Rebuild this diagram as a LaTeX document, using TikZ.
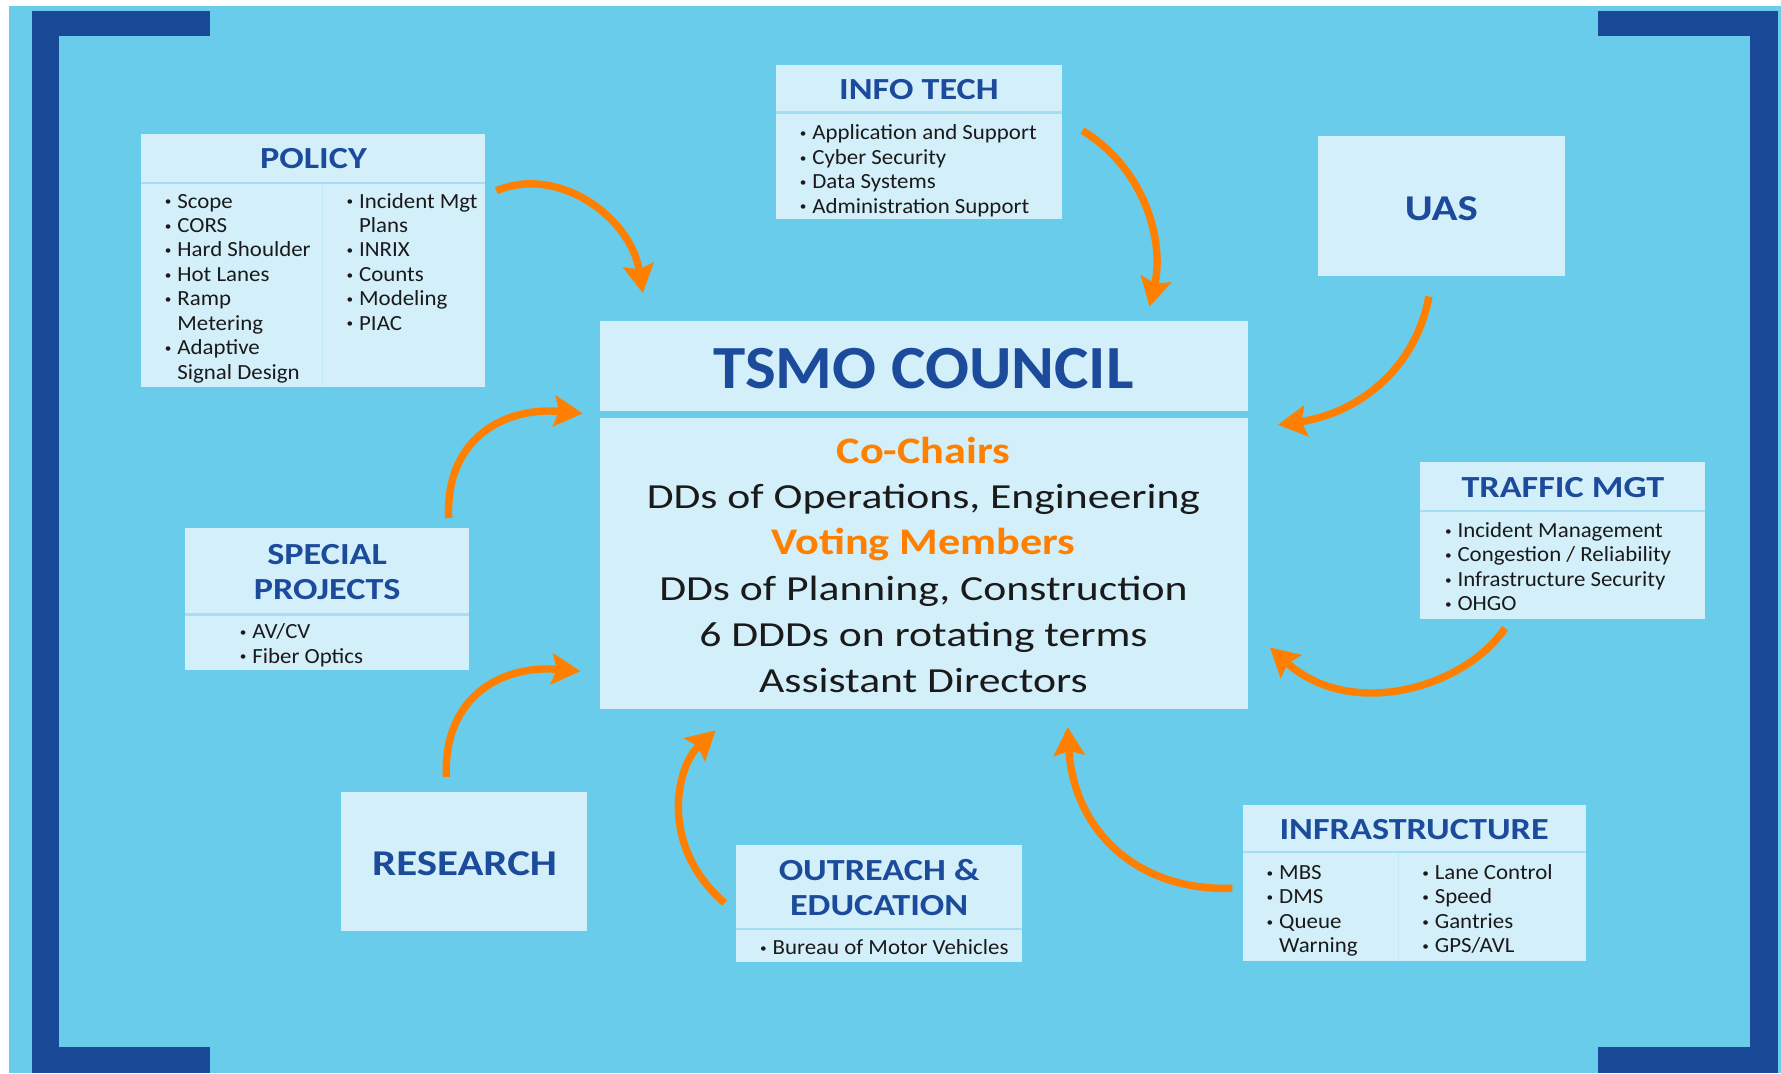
\documentclass[tikz,border=0pt]{standalone}
\usepackage{fontspec}
\setmainfont{Carlito}
\newfontfamily\txtf[FakeStretch=1.06]{Carlito}
\newfontfamily\ttlf[FakeStretch=1.18]{Carlito}
\newfontfamily\bigf[FakeStretch=1.24]{Carlito}
\newfontfamily\tsmof[FakeStretch=1.06]{Carlito}
\usetikzlibrary{arrows.meta}
\definecolor{bgc}{HTML}{69CCEA}
\definecolor{framec}{HTML}{1A4A97}
\definecolor{boxc}{HTML}{D3EFF9}
\definecolor{titlec}{HTML}{1D4B9B}
\definecolor{orangec}{HTML}{FF8000}
\definecolor{divc}{HTML}{A5DEF2}
\definecolor{coldivc}{HTML}{C2E9F6}
\definecolor{txtc}{HTML}{1A1A1A}
\newcommand\bl{\makebox[11pt][l]{\raisebox{2pt}{\fontsize{11pt}{11pt}\selectfont\textbullet}}}
\newcommand\ind{\hspace*{11pt}}
\begin{document}
\begin{tikzpicture}[x=1pt,y=-1pt,
  box/.style={fill=boxc, draw=none, inner sep=0, outer sep=0, anchor=north west},
  ttl/.style={text=titlec, inner sep=0, font=\ttlf\bfseries\fontsize{27pt}{30pt}\selectfont},
  ttlbig/.style={text=titlec, inner sep=0, font=\ttlf\bfseries\fontsize{32pt}{34pt}\selectfont},
  lst/.style={anchor=north west, inner sep=0, align=left, text=txtc, font=\txtf\fontsize{19pt}{21.5pt}\selectfont},
  midtxt/.style={anchor=base, inner sep=0, text=txtc, font=\bigf\fontsize{31pt}{36pt}\selectfont},
  midor/.style={anchor=base, inner sep=0, text=orangec, font=\ttlf\bfseries\fontsize{33pt}{36pt}\selectfont},
  arr/.style={draw=orangec, line width=6.5pt, -{Stealth[length=25pt,width=27pt,inset=4pt]}},
  div/.style={draw=divc, line width=2.2pt},
  coldiv/.style={draw=coldivc, line width=1.2pt}]
\useasboundingbox (0,0) rectangle (1568,945);
% background
\fill[white] (0,0) rectangle (1568,945);
\fill[bgc] (8,5) rectangle (1568,945);
% frame corners
\fill[framec] (28,10) rectangle (52,945);
\fill[framec] (28,10) rectangle (185,32);
\fill[framec] (28,922) rectangle (185,945);
\fill[framec] (1541,10) rectangle (1565,945);
\fill[framec] (1407,10) rectangle (1565,32);
\fill[framec] (1407,922) rectangle (1565,945);

% boxes
\node[box, minimum width=303pt, minimum height=223pt] (policy) at (124,118) {};
\node[box, minimum width=252pt, minimum height=136pt] (infotech) at (683,57) {};
\node[box, minimum width=218pt, minimum height=123pt] (uas) at (1160,120) {};
\node[box, minimum width=251pt, minimum height=138pt] (traffic) at (1250,407) {};
\node[box, minimum width=250pt, minimum height=125pt] (special) at (163,465) {};
\node[box, minimum width=217pt, minimum height=123pt] (research) at (300,697) {};
\node[box, minimum width=252pt, minimum height=103pt] (outreach) at (648,744) {};
\node[box, minimum width=302pt, minimum height=137pt] (infra) at (1094,709) {};
\node[box, minimum width=571pt, minimum height=79pt] (councilh) at (528,283) {};
\node[box, minimum width=571pt, minimum height=256pt] (councilb) at (528,368) {};

% dividers
\draw[div] (124,161) -- (427,161);
\draw[coldiv] (284,162) -- (284,341);
\draw[div] (683,99) -- (935,99);
\draw[div] (1250,450) -- (1501,450);
\draw[div] (163,541) -- (413,541);
\draw[div] (648,818) -- (900,818);
\draw[div] (1094,750) -- (1396,750);
\draw[coldiv] (1231,751) -- (1231,846);

% titles
\node[ttl] (policyt) at (276,140) {POLICY};
\node[ttl] (infotecht) at (809,79) {INFO TECH};
\node[ttlbig] (uast) at (1269,184) {UAS};
\node[ttl] (traffict) at (1376,429) {TRAFFIC MGT};
\node[ttl] (specialt1) at (288,488) {SPECIAL};
\node[ttl] (specialt2) at (288,519) {PROJECTS};
\node[ttlbig] (researcht) at (409,760) {RESEARCH};
\node[ttl] (outreacht1) at (774,766) {OUTREACH \&};
\node[ttl] (outreacht2) at (774,797) {EDUCATION};
\node[ttl] (infrat) at (1245,730) {INFRASTRUCTURE};

% lists
\node[lst] (policyl) at (145,168) {\strut\bl Scope\\ \bl CORS\\ \bl Hard Shoulder\\ \bl Hot Lanes\\ \bl Ramp\\ \ind Metering\\ \bl Adaptive\\ \ind Signal Design};
\node[lst] (policyr) at (305,168) {\strut\bl Incident Mgt\\ \ind Plans\\ \bl INRIX\\ \bl Counts\\ \bl Modeling\\ \bl PIAC};
\node[lst] (infotechl) at (704,108) {\strut\bl Application and Support\\ \bl Cyber Security\\ \bl Data Systems\\ \bl Administration Support};
\node[lst] (trafficl) at (1272,458) {\strut\bl Incident Management\\ \bl Congestion / Reliability\\ \bl Infrastructure Security\\ \bl OHGO};
\node[lst] (speciall) at (211,547) {\strut\bl AV/CV\\ \bl Fiber Optics};
\node[lst] (outreachl) at (669,825) {\strut\bl Bureau of Motor Vehicles};
\node[lst] (infral) at (1115,759) {\strut\bl MBS\\ \bl DMS\\ \bl Queue\\ \ind Warning};
\node[lst] (infrar) at (1252,759) {\strut\bl Lane Control\\ \bl Speed\\ \bl Gantries\\ \bl GPS/AVL};

% council
\node[anchor=base, inner sep=0, text=titlec, font=\tsmof\bfseries\fontsize{54pt}{60pt}\selectfont] (councilt) at (813,342) {TSMO COUNCIL};
\node[midor] (c1) at (813,408) {Co-Chairs};
\node[midtxt] (c2) at (813,448) {DDs of Operations, Engineering};
\node[midor] (c3) at (813,488.5) {Voting Members};
\node[midtxt] (c4) at (813,529) {DDs of Planning, Construction};
\node[midtxt] (c5) at (813,569) {6 DDDs on rotating terms};
\node[midtxt] (c6) at (813,609.5) {Assistant Directors};

% arrow end points
\coordinate (a1s) at (437,168);  \coordinate (a1e) at (566,258);
\coordinate (a2s) at (953,115);  \coordinate (a2e) at (1012,270);
\coordinate (a3s) at (1258,261); \coordinate (a3e) at (1125,374);
\coordinate (a4s) at (1325,553); \coordinate (a4e) at (1118,570);
\coordinate (a5s) at (1085,782); \coordinate (a5e) at (940,640);
\coordinate (a6s) at (638,795);  \coordinate (a6e) at (630,643);
\coordinate (a7s) at (393,684);  \coordinate (a7e) at (511,591);
\coordinate (a8s) at (395,456);  \coordinate (a8e) at (513,364);

\draw[arr] (a1s) .. controls (490,145) and (555,190) .. (a1e);
\draw[arr] (a2s) .. controls (1010,150) and (1025,215) .. (a2e);
\draw[arr] (a3s) .. controls (1245,330) and (1190,365) .. (a3e);
\draw[arr] (a4s) .. controls (1290,605) and (1190,635) .. (a4e);
\draw[arr] (a5s) .. controls (1000,785) and (945,730) .. (a5e);
\draw[arr] (a6s) .. controls (580,745) and (595,675) .. (a6e);
\draw[arr] (a7s) .. controls (390,615) and (440,585) .. (a7e);
\draw[arr] (a8s) .. controls (392,385) and (445,358) .. (a8e);
\end{tikzpicture}
\end{document}
